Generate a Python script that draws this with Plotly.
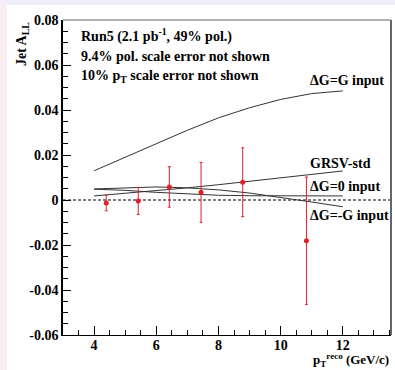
import plotly.graph_objects as go

# data points
pt = [4.39, 5.42, 6.42, 7.44, 8.78, 10.83]
all_vals = [-0.0013, -0.0004, 0.0058, 0.0034, 0.0079, -0.0181]
all_err = [0.0035, 0.0060, 0.0090, 0.0133, 0.0153, 0.0283]

# theory curves
th_x = [4, 5, 6, 7, 8, 9, 10, 11, 12]
dg_g = [0.013, 0.019, 0.025, 0.031, 0.0365, 0.041, 0.0447, 0.0473, 0.0485]
grsv = [0.0018, 0.0029, 0.0041, 0.0054, 0.0068, 0.0083, 0.0099, 0.0114, 0.0129]
dg_0 = [0.0048, 0.0043, 0.0034, 0.0026, 0.0021, 0.0019, 0.0018, 0.0018, 0.0018]
dg_mg = [0.0049, 0.0055, 0.0058, 0.0054, 0.0045, 0.0031, 0.0012, -0.0009, -0.0030]

xticks = [4, 6, 8, 10, 12]
xlabels = ["4", "6", "8", "10", "12"]
yticks = [-0.06, -0.04, -0.02, 0, 0.02, 0.04, 0.06, 0.08]
ylabels = ["-0.06", "-0.04", "-0.02", "0", "0.02", "0.04", "0.06", "0.08"]

XR = [3, 13.55]
YR = [-0.06, 0.08]
FONT = "Liberation Serif"
fig = go.Figure()

# zero dashed line
fig.add_trace(go.Scatter(x=XR, y=[0, 0], mode="lines",
                         line=dict(color="black", width=1, dash="3px,2px"),
                         showlegend=False, hoverinfo="skip"))

for ys in [dg_g, grsv, dg_0, dg_mg]:
    fig.add_trace(go.Scatter(x=th_x, y=ys, mode="lines",
                             line=dict(color="#333333", width=1),
                             showlegend=False))

fig.add_trace(go.Scatter(x=pt, y=all_vals, mode="markers",
                         marker=dict(color="#e0202a", size=5),
                         error_y=dict(type="data", array=all_err, color="#e0202a",
                                      thickness=1, width=1.5),
                         showlegend=False))

ann_font = dict(family=FONT, size=14, color="black")
texts = [
    ("<b>Run5 (2.1 pb<sup>-1</sup>, 49% pol.)</b>", 3.52, 0.0729),
    ("<b>9.4% pol. scale error not shown</b>", 3.52, 0.0636),
    ("<b>10% p<sub>T</sub> scale error not shown</b>", 3.52, 0.0551),
    ("<b>ΔG=G input</b>", 10.87, 0.0533),
    ("<b>GRSV-std</b>", 10.87, 0.0164),
    ("<b>ΔG=0 input</b>", 10.87, 0.0059),
    ("<b>ΔG=-G input</b>", 10.87, -0.0067),
]
for t, x, y in texts:
    fig.add_annotation(text=t, x=x, y=y, xref="x", yref="y", showarrow=False,
                       xanchor="left", yanchor="middle", font=ann_font)

# axis titles
fig.add_annotation(text="<b>Jet A<sub>LL</sub></b>", xref="paper", yref="paper",
                   x=-0.125, y=1.0, xanchor="center", yanchor="top",
                   textangle=-90, showarrow=False, font=ann_font)
fig.add_annotation(text="<b>p<sub>T</sub><sup><span style='font-size:9px'>reco</span></sup> (GeV/c)</b>",
                   xref="paper", yref="paper", borderpad=0,
                   x=0.997, y=-0.102, xanchor="right", yanchor="bottom", yshift=-3,
                   showarrow=False, font=dict(family=FONT, size=13, color="black"))

# frame top / right (gray)
fig.add_shape(type="line", xref="paper", yref="paper", x0=0, x1=1, y0=1, y1=1,
              line=dict(color="#666666", width=1))
fig.add_shape(type="line", xref="paper", yref="paper", x0=1, x1=1, y0=0, y1=1,
              line=dict(color="#666666", width=2))

# page edge tints
fig.add_shape(type="rect", xref="paper", yref="paper", x0=-0.2, x1=1.02,
              y0=1.0476, y1=1.07, line=dict(width=0), fillcolor="#f1eef9", layer="below")
fig.add_shape(type="rect", xref="paper", yref="paper", x0=-0.2, x1=-0.171,
              y0=-0.12, y1=1.0476, line=dict(width=0), fillcolor="#fbeef3", layer="below")

fig.update_xaxes(range=XR, tickvals=xticks, ticktext=["<b>%s</b>" % s for s in xlabels],
                 ticks="inside", ticklen=9, tickwidth=1, ticklabelstandoff=-3,
                 tickcolor="black", showline=True, linecolor="black", linewidth=1,
                 showgrid=False, zeroline=False,
                 minor=dict(dtick=0.5, tick0=0, ticks="inside", ticklen=5, tickcolor="black"),
                 tickfont=dict(family=FONT, size=14, color="black"))
fig.update_yaxes(range=YR, tickvals=yticks, ticktext=["<b>%s</b>" % s for s in ylabels],
                 ticks="inside", ticklen=8,
                 tickwidth=1, tickcolor="black", showline=True, linecolor="black",
                 linewidth=1.5, showgrid=False, zeroline=False,
                 minor=dict(dtick=0.005, tick0=0, ticks="inside", ticklen=5, tickcolor="black"),
                 tickfont=dict(family=FONT, size=14, color="black"))

fig.update_layout(width=395, height=370, margin=dict(l=63, r=4, t=20, b=35),
                  paper_bgcolor="white", plot_bgcolor="white",
                  font=dict(family=FONT, size=13, color="black"))

fig.write_html("out.html")
